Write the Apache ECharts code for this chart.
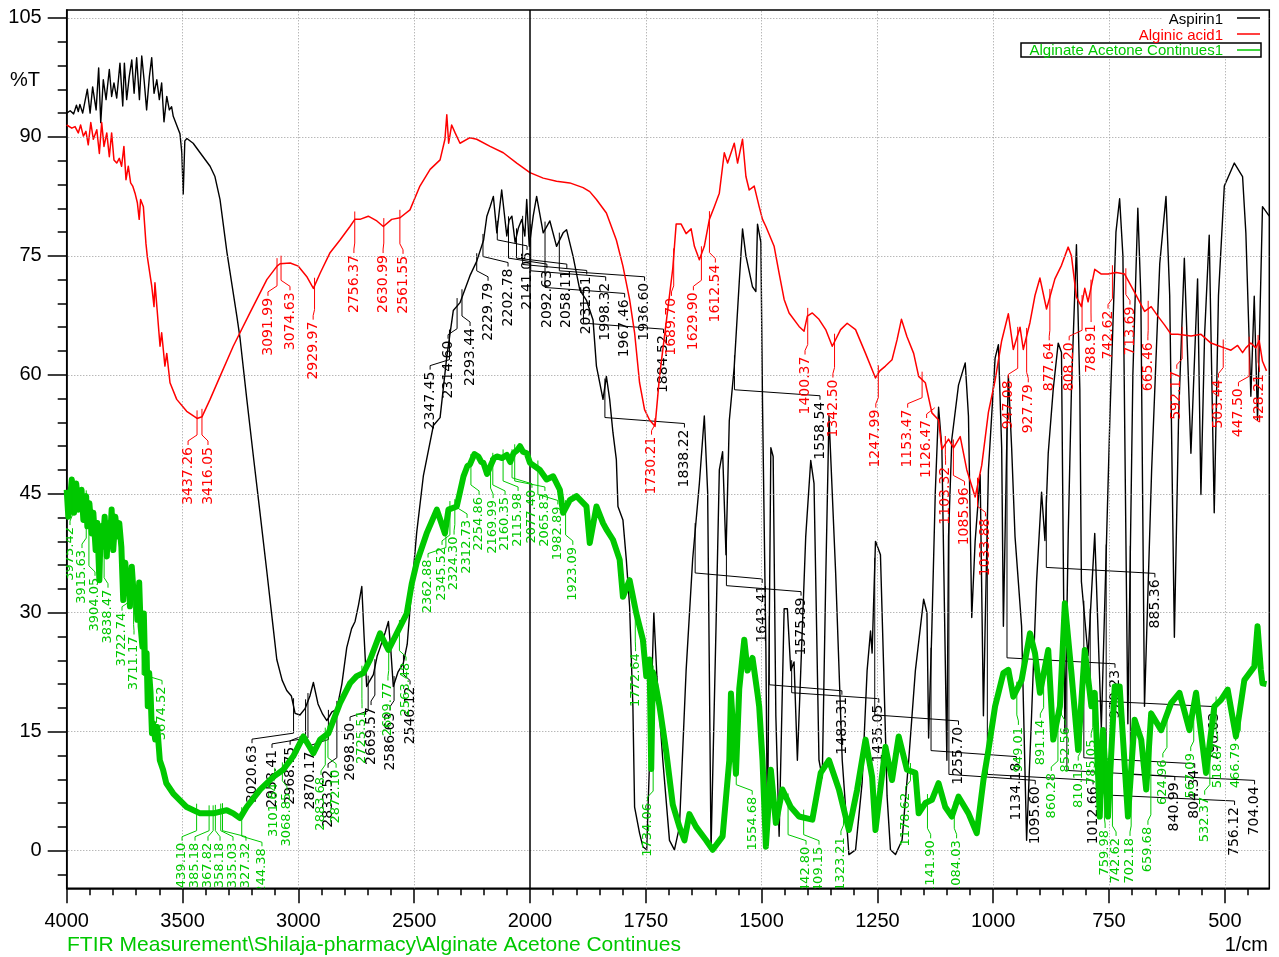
<!DOCTYPE html>
<html><head><meta charset="utf-8">
<script src="https://cdn.jsdelivr.net/npm/echarts@6/dist/echarts.min.js"></script>
<style>html,body{margin:0;padding:0;background:#fff}#c{width:1279px;height:957px}</style>
</head><body><div id="c"></div>
<script>
// ---------- data: [wavenumber (1/cm), %T] ----------
const aspirin = [[4000,93],[3985,93.3],[3970,92.9],[3958,94],[3950,93.2],[3943,94.1],[3931,93],[3911,96],[3899,93],[3888,96.3],[3873,93.4],[3862,98.7],[3853,91.8],[3842,97.2],[3830,94.7],[3816,98.5],[3806,95.1],[3796,96.8],[3784,94.9],[3770,99.3],[3758,93.9],[3751,99.3],[3741,94.7],[3730,97.6],[3719,99.7],[3709,95.5],[3698,100],[3686,94.7],[3676,100.2],[3666,97.2],[3655,93.4],[3643,97.6],[3633,100],[3623,95.5],[3611,97.2],[3600,94.7],[3590,96.8],[3580,91.9],[3568,95.1],[3557,93.4],[3547,93.8],[3540,92.6],[3511,90.4],[3503,88],[3497,82.8],[3490,89.5],[3481,89.8],[3454,89.2],[3424,88],[3381,86.3],[3360,85],[3338,82.1],[3308,75.4],[3265,67.3],[3252,64.7],[3222,56.8],[3194,49.7],[3165,42.5],[3136,35.2],[3110,28.5],[3093,24.1],[3070,21.5],[3050,20.2],[3030,19.5],[3014,17.3],[2993,17.1],[2971,17.9],[2950,19.5],[2935,21.2],[2915,18.5],[2895,17.2],[2877,16.4],[2855,17.5],[2834,17.8],[2812,21],[2791,25.6],[2770,28],[2755,28.9],[2740,31],[2726,33.3],[2716,27],[2705,20.7],[2690,21.5],[2676,22.2],[2660,24.5],[2647,25.6],[2625,27.5],[2611,28.9],[2600,25],[2590,20.7],[2570,22.5],[2547,23.6],[2530,26],[2518,30.4],[2489,40.1],[2460,47.3],[2417,53.6],[2388,54.6],[2359,62.3],[2331,68.1],[2302,69.1],[2259,72.5],[2230,74.3],[2200,77],[2186,80],[2172,81.2],[2158,82.5],[2143,77.9],[2122,83.3],[2100,77.5],[2090,79.5],[2078,80],[2064,76.7],[2050,78.5],[2035,79.6],[2022,77.5],[2014,82.1],[2003,76.2],
[1993,80],[1985.6,82.5],[1971.4,77.9],[1957,79.4],[1942.6,76.2],[1928.4,77.9],[1921,78.3],[1906.8,74.9],[1892.4,70.7],[1878,69.4],[1863.8,66.9],[1856.5,61.1],[1849.4,59],[1842.3,56.9],[1835,59.8],[1827.9,56.9],[1820.8,52.7],[1813.5,49.3],[1810,43.4],[1799.3,41.7],[1792,36.7],[1784.9,30.8],[1777.8,18.2],[1774.1,5.5],[1763.4,2.2],[1756.2,0.5],[1748,0.1],[1741.8,11.4],[1732.6,30],[1726,22],[1713.2,11.4],[1698.8,1.3],[1688.1,0.1],[1677.3,3],[1662.9,22.7],[1648.7,36.8],[1634.3,46.3],[1623.6,54.8],[1616.4,45.2],[1609.1,0.1],[1598.3,28.3],[1591.2,48],[1584.1,50.3],[1576.8,37.3],[1569.7,54.2],[1559,61],[1548.2,71.7],[1541.1,78.4],[1533.8,75],[1519.6,71.1],[1512.3,70.5],[1508.8,79],[1501.5,76.7],[1498,56.5],[1490.7,25.5],[1487.3,1.8],[1480,50.8],[1475,49.7],[1469.2,17],[1462.1,1.8],[1451.3,30.5],[1444.3,30.5],[1437,22.7],[1429.9,23.8],[1422.7,11.4],[1415.4,22.7],[1404.7,39.6],[1393.9,49.2],[1386.8,46.3],[1376.1,11.4],[1369,9.2],[1361.6,33.9],[1354.5,54.8],[1340.1,35],[1325.9,11.4],[1311.5,-0.5],[1297.1,0.1],[1282.9,8.6],[1272.2,22.7],[1264.8,27.7],[1261.4,24.9],[1254.1,39],[1243.4,37.3],[1236.3,22.7],[1229.1,6.9],[1221.8,0.1],[1211,-0.5],[1196.8,1.3],[1182.4,11.4],[1168,22.7],[1150.2,31.7],[1143,30],[1139.4,14.2],[1132.3,28.3],[1125,45.2],[1117.9,55.9],[1110.8,50.8],[1100,11.4],[1096.4,39.6],[1089.3,51.9],[1074.9,58.7],[1060.4,61.5],[1053.4,54.8],[1046.3,29.4],[1039,39],[1028.2,47.4],[1021.1,17],[1017.4,28.3],[1010.3,48],[995.9,62.1],[988.8,63.8],[981.7,50.8],[978,28.3],[970.9,50.8],[967.3,59.9],[960.2,50.8],[952.9,39.6],[938.7,28.3],[927.9,1.3],[917.2,17],[906.4,33.9],[895.6,45.2],[888.3,39.1],[881.2,50.1],[870.4,58.2],[859.7,64],[852.6,62.8],[845.3,14.8],[838,40],[831.1,58.2],[820.3,76.4],[813,58.2],[809.6,33.9],[795.2,24.6],[780.8,40],[766.6,15.4],[747.9,55],[735,78],[727.1,82.2],[720,75],[709.3,16],[698.5,60],[687.8,81],[681.3,70],[673.4,18.2],[658,48],[640.5,74],[627,82.5],[619,70],[608.9,26.9],[599.7,55],[587.4,74.7],[573.2,50.1],[558.8,72.1],[551.6,44.9],[543.7,65],[533.7,77.6],[522.9,42.6],[513.7,70],[501.1,83.8],[479.5,86.7],[461.7,85],[454.6,77.9],[443.8,57.3],[436.5,69.9],[429.4,54.3],[418.7,81.2],[404,80]];

const alginicAcid = [[4000,91.5],[3978,91.1],[3964,91.3],[3950,90.5],[3940,91.5],[3928,90.1],[3917,90.7],[3907,89],[3896,91.8],[3885,89.7],[3870,90.9],[3859,87.9],[3849,91.8],[3839,88.8],[3827,90.5],[3816,87.5],[3806,90.5],[3796,87.1],[3784,86.7],[3773,87.3],[3763,86.3],[3753,88.8],[3744,84.6],[3734,86.3],[3724,84.2],[3715,83.8],[3705,82.9],[3695,81.7],[3687,79.6],[3681,82.1],[3669,81.2],[3658,76.6],[3652,74.9],[3633,71.2],[3623,68.6],[3619,71.6],[3597,63.6],[3590,65.3],[3576,61.1],[3568,62.7],[3554,59],[3525,56.9],[3482,55.4],[3437,54.5],[3416,54.7],[3381,56.9],[3338,59.8],[3281,63.6],[3209,67.8],[3136,72],[3092,73.7],[3079,74],[3035,74.1],[3000,73.7],[2964,72.4],[2935,70.9],[2906,72.8],[2863,75.4],[2820,77],[2777,78.7],[2756,79.6],[2734,79.6],[2698,80],[2661,79.4],[2633,78.7],[2597,79.6],[2561,79.8],[2518,80.8],[2475,83.8],[2431,85.9],[2388,87.1],[2367,89.7],[2359,92.8],[2351,89.2],[2338,91.5],[2323,90.5],[2302,89.2],[2259,89.9],[2230,89.7],[2172,88.8],[2115,88],[2057,86.7],[2000,85.5],
[1971.4,84.8],[1942.6,84.4],[1914,84.2],[1885.3,83.6],[1870.9,83.1],[1856.5,82.1],[1835,80.4],[1813.5,77],[1799.3,73.7],[1784.9,69.5],[1774.1,65.3],[1763.4,59],[1752.6,55.6],[1741.8,54.3],[1730,53.5],[1720.3,59.8],[1705.9,66.6],[1691.7,73.4],[1684.4,79],[1673.6,79],[1662.9,77.8],[1652.1,78.4],[1645,76.2],[1634.3,74.5],[1623.6,76.2],[1612.7,79.6],[1602,81.2],[1591.2,82.9],[1584.1,86.3],[1580.5,88],[1573.3,86.7],[1559,89.2],[1551.8,86.7],[1541.1,89.7],[1533.8,85],[1526.7,83.3],[1515.9,83.8],[1505.2,81.2],[1498,79.6],[1490.7,78.7],[1472.9,76.2],[1462.1,72.8],[1451.3,69.5],[1440.6,67.8],[1419.1,66.1],[1408.3,65.5],[1401.2,67.4],[1390.5,67.8],[1376.1,67],[1361.6,65.7],[1347.4,63.6],[1329.4,65.7],[1315.2,66.5],[1297.1,65.7],[1275.6,62.7],[1254.1,59.6],[1244.8,60.5],[1232.6,61.1],[1218.4,61.9],[1207.6,64.4],[1198.1,67],[1186.1,64.8],[1171.7,62.7],[1160.9,59.8],[1146.5,59],[1132.3,55.2],[1117.9,54.3],[1110.8,50.6],[1096.4,51.9],[1085.6,50.8],[1071.2,52.2],[1057,48],[1038.9,44.6],[1024.7,48.6],[1010.3,55.3],[995.9,59.3],[981.7,64.3],[967.3,67.7],[956.6,63.2],[942.1,66],[935,63.2],[920.6,66.6],[909.8,70],[899.1,72.2],[884.9,68.3],[866.8,72.1],[852.6,73.8],[838.2,76.1],[831.1,75],[820.3,69.8],[809.6,68.6],[802.3,70.9],[795.2,69.2],[780.8,73.3],[766.6,72.7],[752.2,72.7],[734.3,72.9],[716.3,72.7],[694.7,70.4],[673.2,68],[659,68.6],[644.6,67.4],[630.2,66.3],[615.9,65.1],[601.5,65.1],[572.9,64.9],[551.4,65.1],[529.9,64],[515.5,63.7],[501.1,63.4],[486.8,63.1],[472.4,63.7],[461.7,62.8],[454.6,63.4],[443.8,64],[433.1,63.4],[425.8,64.3],[418.7,61.7],[410,60.5]];

const alginateAcetone = [[4000,45.5],[3993,42.1],[3978,46.8],[3968,42.6],[3959,46.3],[3948,43],[3936,45.5],[3928,41.7],[3916,44.7],[3911,40.9],[3902,43.8],[3892,40],[3885,42.6],[3875,37.9],[3868,41.3],[3859,34.1],[3853,40.9],[3845,38.3],[3836,42.1],[3827,37.1],[3820,41.3],[3813,39.2],[3806,43],[3799,37.9],[3790,42.1],[3781,39.6],[3773,41.3],[3764,38.3],[3756,31.6],[3747,36.3],[3741,33.8],[3733,35],[3727,30.8],[3719,35.8],[3710,32],[3701,32.5],[3695,29.1],[3687,33.8],[3681,28.3],[3673,25.7],[3667,29.9],[3661,22.4],[3655,24.9],[3650,18.2],[3644,22.4],[3638,19.9],[3632,14.8],[3627,16.1],[3618,14],[3609,15.6],[3598,11.4],[3584,10.2],[3570,8.5],[3540,7.2],[3482,5.5],[3424,4.7],[3367,4.7],[3309,5.1],[3281,4.7],[3252,4.1],[3223,5.5],[3165,7.7],[3108,9.3],[3065,10.2],[3022,11.9],[2978,14.4],[2935,12.3],[2906,14],[2870,14.8],[2820,18.6],[2777,21.1],[2748,22],[2719,22.4],[2690,24.1],[2647,27.4],[2611,25.3],[2575,27.4],[2532,29.9],[2510,33.7],[2489,36.3],[2446,40],[2402,43],[2367,40],[2352,43],[2316,43.4],[2287,47.2],[2270,48.5],[2259,48.7],[2240,50],[2223,49.7],[2210,49],[2201,48.9],[2185,47.5],[2172,48.4],[2155,49.5],[2143,49.7],[2120,49.5],[2100,49.9],[2085,49],[2071,50.1],[2055,50.5],[2043,51],[2030,50.3],[2014,50.1],[2000,48.9],
[1978.5,48],[1964.1,46.8],[1949.9,47.2],[1935.5,45.5],[1928.4,42.6],[1913.9,44.2],[1899.5,44.7],[1878,43.4],[1870.9,38.8],[1856.5,43.4],[1842.3,41.3],[1835,40.5],[1820.8,39.2],[1806.4,36.7],[1799.3,32],[1784.9,34.1],[1770.4,29.9],[1756.2,26.6],[1748.9,22],[1741.8,24.1],[1738.2,10.3],[1734.7,22.5],[1727.4,20.5],[1720.3,18.2],[1705.9,12.5],[1691.7,5.8],[1677.3,3],[1666.5,1.3],[1655.8,4.6],[1641.4,3],[1619.8,1.3],[1605.6,0.1],[1584.1,1.8],[1569.7,11.4],[1566.1,19.8],[1555.3,9.7],[1548.2,20.4],[1537.4,26.6],[1530.3,22.7],[1519.6,24.3],[1508.8,19.8],[1505.2,18.2],[1498,11.4],[1490.7,0.5],[1480,10.2],[1469.2,3.5],[1455,7.7],[1437,5.5],[1419.1,4.3],[1390.5,3.9],[1372.4,9.8],[1354.5,11.4],[1333,7.7],[1311.5,2.6],[1293.7,7.7],[1275.6,14],[1261.4,9.3],[1254.1,2.6],[1232.6,13.1],[1218.4,8.9],[1204,14.4],[1186.1,10.2],[1168,9.8],[1160.9,4.7],[1146.5,6],[1132.3,6.4],[1117.9,8.5],[1103.5,5.5],[1089.3,4.3],[1074.9,6.8],[1053.4,4.7],[1035.5,2.2],[1021.1,8.9],[1010.3,12.7],[995.9,18.2],[978,22.4],[967.3,22.8],[956.6,19.4],[938.7,21.5],[920.6,27.4],[909.8,24.9],[899.1,19.9],[881.2,25.3],[870.4,14],[856,18.2],[845.3,31.2],[831.1,22.4],[816.7,12.7],[802.3,25.3],[788,18.2],[780.8,19.9],[770,4.3],[762.9,15.2],[752.2,4.3],[737.7,20.7],[727,20.7],[709.1,4.3],[694.7,16.5],[680.5,14],[669.7,7.7],[659,17.3],[637.5,15.2],[616,18.6],[597.9,19.9],[576.4,15.2],[562.1,19.9],[540.6,9.8],[522.6,18.2],[508.3,19],[493.9,20.3],[476,14.4],[457.9,21.5],[436.4,23.2],[429.4,28.3],[422.3,22.8],[418.7,21.1],[410,21]];

// peak annotations (text = wavenumber)
const aspirinPeaks = ["3020.63","2958.41","2968.75","2870.17","2833.52","2698.50","2669.57","2586.63","2546.12","2347.45","2314.60","2293.44","2229.79","2202.78","2141.05","2092.63","2058.11","2031.51","1998.32","1967.46","1936.60","1884.52","1838.22","1643.41","1575.89","1558.54","1483.31","1435.05","1255.70","1134.18","1095.60","1012.66","970.23","885.36","840.99","804.34","790.63","756.12","704.04"];
const alginicPeaks = ["3437.26","3416.05","3091.99","3074.63","2929.97","2756.37","2630.99","2561.55","1730.21","1689.70","1629.90","1612.54","1400.37","1342.50","1247.99","1153.47","1126.47","1103.32","1085.96","1033.88","947.08","927.79","877.64","808.20","788.91","742.62","713.69","665.46","592.17","503.44","447.50","428.21"];
const alginatePeaks = ["3975.42","3915.63","3904.05","3838.47","3722.74","3711.17","3674.52","3439.10","3385.18","3367.82","3358.18","3335.03","3327.32","3244.38","3101.64","3068.85","2883.68","2872.10","2725.51","2609.77","2563.48","2362.88","2345.52","2324.30","2312.73","2254.86","2169.99","2160.35","2115.98","2077.40","2065.83","1982.89","1923.09","1772.64","1734.06","1554.68","1442.80","1409.15","1323.21","1178.62","1141.90","1084.03","949.01","891.14","860.28","852.56","810.13","785.05","759.98","742.62","702.18","659.68","624.96","567.09","532.37","518.87","466.79"];

// label placement (layout): [wavenumber, %T] of the upper end of each rotated label
const aspirinLabelAt = [[3200,13.3],[3113.6,12.7],[3035.5,13.1],[2949,12.5],[2871.6,10.2],[2776.7,16.1],[2686,18.1],[2604,17.4],[2517.6,20.7],[2431,60.4],[2353.6,64.3],[2258.6,65.9],[2180.9,71.6],[2094.6,73.4],[2012.5,75.5],[1963.4,73.2],[1920.4,73.2],[1877.4,72.4],[1836.5,71.6],[1795.6,69.5],[1752.6,71.6],[1711.7,65],[1666.5,53.1],[1498.7,33.5],[1414.8,31.9],[1373.9,56.6],[1326.6,19.4],[1246.9,18.4],[1074.9,15.6],[950.1,11.1],[909.2,8.1],[784.4,8.1],[737.1,22.8],[651,34.2],[608,8.6],[565,10.2],[522,17.4],[479,5.5],[435.8,8.1]];
const alginicLabelAt = [[3476,50.9],[3390,50.9],[3131,69.7],[3036,70.4],[2936,66.7],[2760,75.1],[2634,75.1],[2548,75],[1737.5,52.2],[1694.5,69.7],[1647.2,70.4],[1599.8,73.9],[1406.2,62.3],[1346,59.4],[1253.4,55.6],[1184.6,55.6],[1143.7,54.3],[1102.8,48.4],[1061.9,45.8],[1016.7,41.9],[967.3,59.3],[924.3,58.8],[879.1,64.1],[836,64.1],[788.7,66.4],[752.1,68.1],[704.8,68.6],[666.1,64.1],[603.7,60.5],[513.6,59.4],[470.6,58.3],[425.4,60.1]];
const alginateLabelAt = [[3985.7,40.8],[3934,37.9],[3877.8,34.4],[3821.7,32.9],[3761.2,30],[3709.4,27],[3588.4,20.7],[3502,1],[3446,1],[3390,1],[3338,1],[3282,1],[3226,1],[3157,0.3],[3105,8.5],[3049,7.3],[2902,9.3],[2837,10.2],[2725,17.7],[2613,21.2],[2535,23.7],[2440,36.7],[2379.6,38.3],[2327.6,39.6],[2271.5,41.7],[2219.7,44.6],[2159,44.2],[2107.4,44.6],[2051.3,45.1],[1995.7,45.5],[1967.7,45.1],[1939.8,43.4],[1907.5,38.3],[1772,24.9],[1746.1,6],[1520.2,6.8],[1404,0.5],[1376,0.5],[1328.7,1.7],[1188.9,7.3],[1135,1.3],[1079,1.3],[945.6,15.6],[898.3,16.5],[874.6,9.8],[844.5,15.6],[816.5,11.1],[788.5,14],[758.4,2.6],[734.8,1.6],[704.7,1.6],[666,3],[633.8,11.5],[573.6,12.3],[543.5,6.8],[515.5,13.6],[476.7,13.6]];

const seriesNames = ["Aspirin1","Alginic acid1","Alginate Acetone Continues1"];
const xTickLabels = [500,750,1000,1250,1500,1750,2000,2500,3000,3500,4000];
const yTickLabels = [0,15,30,45,60,75,90,105];
const footerText = "FTIR Measurement\\Shilaja-pharmacy\\Alginate Acetone Continues";

// ---------- axis transform: the range above 2000 1/cm is drawn at half scale ----------
function toU(w){ return w <= 2000 ? w : 2000 + (w - 2000) / 2; }
function fromU(u){ return u <= 2000 ? u : 2000 + (u - 2000) * 2; }
function interp(arr, w){
  for (let i = 0; i < arr.length - 1; i++){
    const a = arr[i], b = arr[i+1];
    if ((w <= a[0] && w >= b[0]) || (w >= a[0] && w <= b[0])){
      const t = (w - a[0]) / ((b[0] - a[0]) || 1);
      return a[1] + t * (b[1] - a[1]);
    }
  }
  return arr[arr.length-1][1];
}

const X_MIN = toU(404), X_MAX = toU(4000), Y_MIN = -4.75, Y_MAX = 106;
const FONT = '"Liberation Sans", Arial, sans-serif';
const BLACK = '#000000', RED = '#ff0000', GREEN = '#00c800';

const xMajorU = xTickLabels.map(toU);
const xMinorU = []; for (let u = 450; u <= 3000; u += 50) xMinorU.push(u);
const yMinor = []; for (let v = -3; v <= 105; v += 3) yMinor.push(v);
const xGridU = xMajorU.filter(u => u !== 2000 && u !== X_MAX);

function lineSeries(name, data, color, width, z){
  return { type:'line', name, z, data: data.map(p => [toU(p[0]), p[1]]),
    symbol:'none', showSymbol:false, silent:true, animation:false,
    lineStyle:{ color, width, join:'round' }, itemStyle:{ color } };
}
function labelSeries(peaks, pos, curve, color, fontSize, z){
  const data = peaks.map((t, i) => { const w = parseFloat(t); return [toU(pos[i][0]), pos[i][1], toU(w), interp(curve, w)]; });
  return { type:'custom', z, clip:true, silent:true, animation:false, data,
    renderItem: function(params, api){
      const L = api.coord([api.value(0), api.value(1)]);
      const P = api.coord([api.value(2), api.value(3)]);
      const lx = L[0], ly = L[1], px = P[0], py = P[1];
      const kink = ly - 12;
      const pts = [[lx, ly - 2], [lx, ly - 6], [px, kink], [px, py - 8]];
      return { type:'group', children:[
        { type:'polyline', shape:{ points: pts }, style:{ stroke: color, lineWidth: 1, fill: 'none' } },
        { type:'text', x: lx, y: ly, rotation: Math.PI / 2,
          style:{ text: peaks[params.dataIndex], fill: color, fontSize, fontFamily: '"DejaVu Sans", sans-serif', align:'right', verticalAlign:'middle' } }
      ]};
    }
  };
}

const dotted = { color:'#9a9a9a', type:[1,2], width:1 };
const chart = echarts.init(document.getElementById('c'), null, { renderer:'canvas', width:1279, height:957 });
chart.setOption({
  animation:false,
  backgroundColor:'#ffffff',
  grid:{ left:66.7, right:9.7, top:10, bottom:68.7, show:true, borderColor:'#000', borderWidth:1.5, outerBoundsMode:'none', containLabel:false },
  xAxis:[
    { type:'value', position:'bottom', inverse:true, min:X_MIN, max:X_MAX,
      axisLine:{ show:true, onZero:false, lineStyle:{ color:'#000', width:1.5 } },
      axisTick:{ show:true, customValues:xMajorU, length:15, lineStyle:{ color:'#000', width:1.5 } },
      axisLabel:{ show:true, customValues:xMajorU, formatter:v => String(Math.round(fromU(v))), fontSize:20, fontFamily:FONT, color:'#000', margin:23 },
      splitLine:{ show:false } },
    { type:'value', position:'bottom', inverse:true, min:X_MIN, max:X_MAX,
      axisLine:{ show:false, onZero:false },
      axisTick:{ show:true, customValues:xMinorU, length:7, lineStyle:{ color:'#000', width:1.5 } },
      axisLabel:{ show:false }, splitLine:{ show:false } }
  ],
  yAxis:[
    { type:'value', position:'left', min:Y_MIN, max:Y_MAX,
      axisLine:{ show:true, onZero:false, lineStyle:{ color:'#000', width:1.5 } },
      axisTick:{ show:true, customValues:yTickLabels, length:19, lineStyle:{ color:'#000', width:1.5 } },
      axisLabel:{ show:true, customValues:yTickLabels, fontSize:20, fontFamily:FONT, color:'#000', margin:25 },
      splitLine:{ show:false } },
    { type:'value', position:'left', min:Y_MIN, max:Y_MAX,
      axisLine:{ show:false, onZero:false },
      axisTick:{ show:true, customValues:yMinor, length:9, lineStyle:{ color:'#000', width:1.5 } },
      axisLabel:{ show:false }, splitLine:{ show:false } }
  ],
  series:[
    { type:'line', name:'gridlines', z:1, silent:true, symbol:'none', data:[[X_MIN, Y_MIN]], lineStyle:{ opacity:0 },
      markLine:{ silent:true, symbol:['none','none'], label:{ show:false }, animation:false,
        data:[].concat(
          xGridU.map(u => ({ xAxis:u, lineStyle:dotted })),
          yTickLabels.map(v => ({ yAxis:v, lineStyle:dotted })),
          [{ xAxis:2000, lineStyle:{ color:'#000', type:'solid', width:1.5 } }]
        ) } },
    lineSeries(seriesNames[0], aspirin, BLACK, 1.4, 2),
    labelSeries(aspirinPeaks, aspirinLabelAt, aspirin, BLACK, 14, 3),
    lineSeries(seriesNames[1], alginicAcid, RED, 1.5, 4),
    labelSeries(alginicPeaks, alginicLabelAt, alginicAcid, RED, 14, 5),
    lineSeries(seriesNames[2], alginateAcetone, GREEN, 6, 6),
    labelSeries(alginatePeaks, alginateLabelAt, alginateAcetone, GREEN, 13, 7)
  ],
  graphic:[
    { type:'text', x:10, y:80, z:50, style:{ text:'%T', fontSize:20, fontFamily:FONT, fill:'#000', verticalAlign:'middle' } },
    { type:'text', x:67, y:945, z:50, style:{ text:footerText, fontSize:21, fontFamily:FONT, fill:GREEN, verticalAlign:'middle' } },
    { type:'text', x:1268, y:945, z:50, style:{ text:'1/cm', fontSize:20, fontFamily:FONT, fill:'#000', align:'right', verticalAlign:'middle' } },
    // legend
    { type:'rect', z:50, shape:{ x:1163, y:11, width:105, height:16 }, style:{ fill:'#fff' } },
    { type:'rect', z:50, shape:{ x:1132, y:27, width:136, height:16 }, style:{ fill:'#fff' } },
    { type:'rect', z:50, shape:{ x:1021, y:43, width:240, height:14 }, style:{ fill:'#fff', stroke:'#000', lineWidth:1.5 } },
    { type:'text', z:51, x:1223, y:20, style:{ text:seriesNames[0], fontSize:15, fontFamily:FONT, fill:BLACK, align:'right', verticalAlign:'middle' } },
    { type:'text', z:51, x:1223, y:36, style:{ text:seriesNames[1], fontSize:15, fontFamily:FONT, fill:RED, align:'right', verticalAlign:'middle' } },
    { type:'text', z:51, x:1223, y:51, style:{ text:seriesNames[2], fontSize:15, fontFamily:FONT, fill:GREEN, align:'right', verticalAlign:'middle' } },
    { type:'line', z:51, shape:{ x1:1237, y1:18, x2:1260, y2:18 }, style:{ stroke:BLACK, lineWidth:1.5 } },
    { type:'line', z:51, shape:{ x1:1237, y1:34, x2:1260, y2:34 }, style:{ stroke:RED, lineWidth:1.5 } },
    { type:'line', z:51, shape:{ x1:1237, y1:50, x2:1260, y2:50 }, style:{ stroke:GREEN, lineWidth:1.5 } }
  ]
});
</script>
</body></html>
